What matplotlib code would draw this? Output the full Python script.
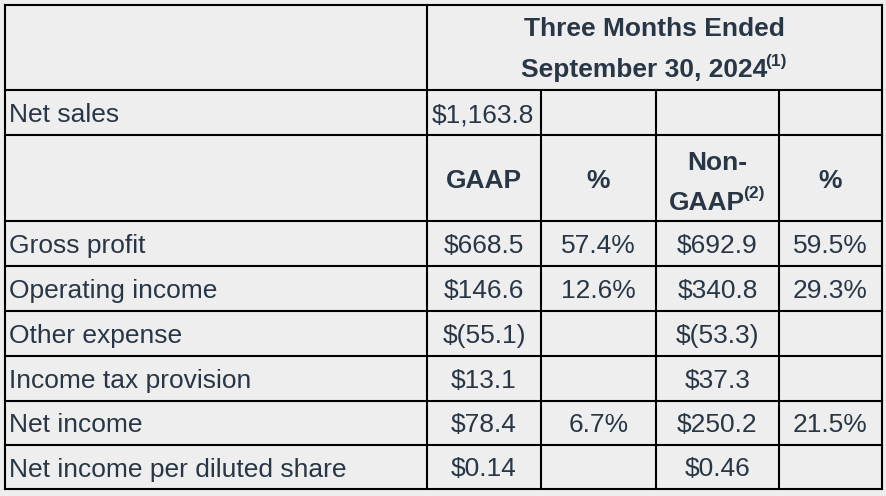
import matplotlib
matplotlib.use("Agg")
import matplotlib.pyplot as plt

# table content
labels = ["Gross profit", "Operating income", "Other expense",
          "Income tax provision", "Net income", "Net income per diluted share"]
gaap = ["$668.5", "$146.6", "$(55.1)", "$13.1", "$78.4", "$0.14"]
gaap_pct = ["57.4%", "12.6%", "", "", "6.7%", ""]
non_gaap = ["$692.9", "$340.8", "$(53.3)", "$37.3", "$250.2", "$0.46"]
non_gaap_pct = ["59.5%", "29.3%", "", "", "21.5%", ""]
net_sales = "$1,163.8"
col_heads = ["GAAP", "%", "Non-GAAP", "%"]

BG = "#eeeeee"
TXT = "#283646"
FONT = "Liberation Sans"
FS = 19

# grid in pixel units
xs = [5, 427, 541, 656, 779, 882]
ys = [5, 90, 135, 221, 266, 311, 356, 401, 445, 489]

fig = plt.figure(figsize=(8.87, 4.96), dpi=100)
fig.patch.set_facecolor(BG)
ax = fig.add_axes([0, 0, 1, 1])
ax.set_xlim(0, 887)
ax.set_ylim(496, 0)
ax.axis("off")

lw = 1.5
# horizontal lines
for y in ys:
    ax.plot([xs[0], xs[-1]], [y, y], color="black", lw=lw, solid_capstyle="projecting")
# vertical lines
ax.plot([xs[0], xs[0]], [ys[0], ys[-1]], color="black", lw=lw)
ax.plot([xs[-1], xs[-1]], [ys[0], ys[-1]], color="black", lw=lw)
ax.plot([xs[1], xs[1]], [ys[0], ys[-1]], color="black", lw=lw)
for x in xs[2:5]:
    ax.plot([x, x], [ys[1], ys[-1]], color="black", lw=lw)

renderer = fig.canvas.get_renderer()


def txt(x, y, s, ha="center", weight="normal", size=FS):
    return ax.text(x, y, s, ha=ha, va="center_baseline", fontsize=size,
                   fontweight=weight, color=TXT, family=FONT)


def sup_text(xc, y, main, sup, weight="bold"):
    t = txt(0, y, main, ha="left", weight=weight)
    s = ax.text(0, y - 8, sup, ha="left", va="center_baseline", fontsize=FS * 0.66,
                fontweight=weight, color=TXT, family=FONT)
    w1 = t.get_window_extent(renderer).width
    w2 = s.get_window_extent(renderer).width
    x0 = xc - (w1 + w2) / 2
    t.set_x(x0)
    s.set_x(x0 + w1 - 2)


def cx(i):
    return (xs[i] + xs[i + 1]) / 2


def cy(j):
    return (ys[j] + ys[j + 1]) / 2


# header
hx = (xs[1] + xs[-1]) / 2
txt(hx, 27, "Three Months Ended", weight="bold")
sup_text(hx, 68, "September 30, 2024", "(1)")

# net sales row
txt(9, cy(1), "Net sales", ha="left")
txt(432, cy(1), net_sales, ha="left")

# column heads
txt(cx(1), cy(2), col_heads[0], weight="bold")
txt(cx(2), cy(2), col_heads[1], weight="bold")
txt(cx(3), 160, "Non-", weight="bold")
sup_text(cx(3), 200, "GAAP", "(2)")
txt(cx(4), cy(2), col_heads[3], weight="bold")

# body rows
for k in range(len(labels)):
    j = k + 3
    txt(9, cy(j), labels[k], ha="left")
    txt(cx(1), cy(j), gaap[k])
    txt(cx(2), cy(j), gaap_pct[k])
    txt(cx(3), cy(j), non_gaap[k])
    txt(cx(4), cy(j), non_gaap_pct[k])

fig.savefig("out.png", dpi=100, facecolor=BG)
